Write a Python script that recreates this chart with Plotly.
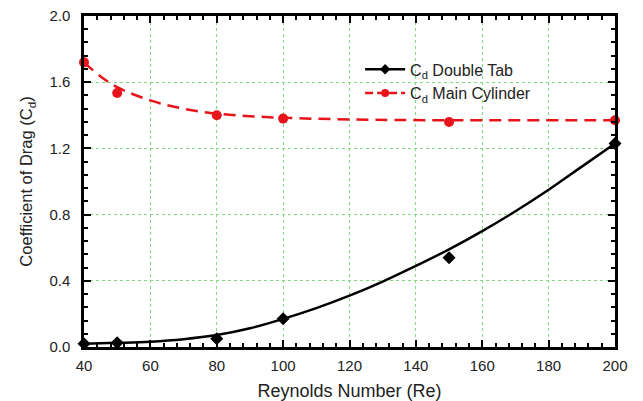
import plotly.graph_objects as go

# Data points
re_pts = [40, 50, 80, 100, 150, 200]
cd_double_tab = [0.02, 0.025, 0.05, 0.17, 0.54, 1.23]
cd_main_cyl = [1.72, 1.535, 1.40, 1.38, 1.36, 1.37]

# Fitted curves
fit_x_tab = [40, 50, 60, 70, 80, 90, 100, 110, 120, 130, 140, 150, 160, 170, 180, 190, 200]
fit_y_tab = [0.02, 0.025, 0.032, 0.047, 0.072, 0.113, 0.17, 0.235, 0.31, 0.395, 0.49, 0.59, 0.70, 0.82, 0.95, 1.09, 1.23]
fit_x_cyl = [40, 45, 50, 60, 70, 80, 90, 100, 120, 150, 200]
fit_y_cyl = [1.72, 1.635, 1.57, 1.49, 1.44, 1.41, 1.395, 1.385, 1.375, 1.37, 1.37]

x_ticks = [40, 60, 80, 100, 120, 140, 160, 180, 200]
y_ticks = [0.0, 0.4, 0.8, 1.2, 1.6, 2.0]

RED = "#e8141c"
FONT = "Liberation Sans, Arial, sans-serif"
DASH = "12px,7px"

fig = go.Figure()
fig.add_trace(go.Scatter(x=fit_x_tab, y=fit_y_tab, mode="lines", line=dict(color="black", width=2.5, shape="spline"),
                         showlegend=False, hoverinfo="skip"))
fig.add_trace(go.Scatter(x=fit_x_cyl, y=fit_y_cyl, mode="lines", line=dict(color=RED, width=2.5, dash=DASH, shape="spline"),
                         showlegend=False, hoverinfo="skip"))
fig.add_trace(go.Scatter(x=re_pts, y=cd_double_tab, mode="markers", marker=dict(symbol="diamond", size=10, color="black"),
                         showlegend=False, cliponaxis=False))
fig.add_trace(go.Scatter(x=re_pts, y=cd_main_cyl, mode="markers", marker=dict(symbol="circle", size=10, color=RED),
                         showlegend=False, cliponaxis=False))
# legend entries
fig.add_trace(go.Scatter(x=[None], y=[None], mode="lines+markers", name="C<sub>d</sub> Double Tab",
                         line=dict(color="black", width=2.5), marker=dict(symbol="diamond", size=8, color="black")))
fig.add_trace(go.Scatter(x=[None], y=[None], mode="lines+markers", name="C<sub>d</sub> Main Cylinder",
                         line=dict(color=RED, width=2.5, dash="8px,4px"), marker=dict(symbol="circle", size=8, color=RED)))

axis_common = dict(
    showline=True, linecolor="black", linewidth=2.5, mirror="ticks",
    ticks="inside", ticklen=7, tickwidth=1.5, tickcolor="black",
    showgrid=True, gridcolor="#7fdc7f", griddash="dot", gridwidth=1,
    zeroline=False, automargin=False,
    tickfont=dict(family=FONT, size=15, color="#222"),
)

fig.update_xaxes(range=[40, 200], tickvals=x_ticks, ticktext=[str(v) for v in x_ticks],
                 ticklabelstandoff=3,
                 minor=dict(ticks="inside", dtick=4, ticklen=4, tickcolor="black", showgrid=False),
                 title=dict(text="Reynolds Number (Re)", font=dict(family=FONT, size=18, color="#222"), standoff=14),
                 **axis_common)
fig.update_yaxes(range=[0, 2.0], tickvals=y_ticks, ticktext=[f"{v:.1f}" for v in y_ticks],
                 ticklabelstandoff=8,
                 minor=dict(ticks="inside", dtick=0.08, tick0=0, ticklen=4, tickcolor="black", showgrid=False),
                 title=dict(text="Coefficient of Drag (C<sub>d</sub>)", font=dict(family=FONT, size=16.5, color="#222"), standoff=13),
                 **axis_common)

fig.update_layout(
    width=643, height=401,
    margin=dict(l=84, r=28, t=16, b=54),
    plot_bgcolor="white", paper_bgcolor="white",
    legend=dict(x=0.52, y=0.89, xanchor="left", yanchor="top", bgcolor="rgba(0,0,0,0)",
                font=dict(family=FONT, size=16, color="#222"), itemwidth=40, tracegroupgap=0),
)

fig.write_html("out.html")
